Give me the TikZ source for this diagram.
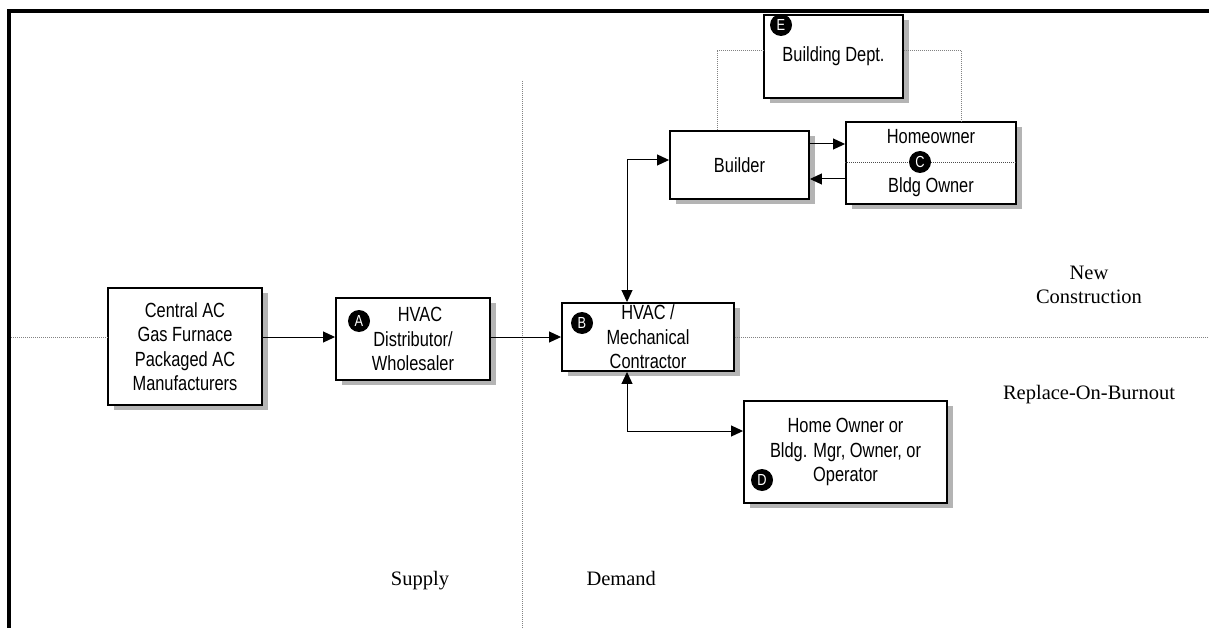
\documentclass[tikz,border=0pt]{standalone}
\usepackage{fontspec}
\usetikzlibrary{arrows.meta,shadows}
\newfontfamily\narrowsans[FakeStretch=0.8]{Liberation Sans}
\newfontfamily\labelserif{Liberation Serif}
\definecolor{shadowgray}{RGB}{180,180,180}
\definecolor{dotgray}{RGB}{130,130,130}
\tikzset{
  box/.style={draw, line width=1.9pt, fill=white, rectangle, inner sep=0pt,
    align=center, font=\narrowsans\fontsize{20.5}{24.5}\selectfont,
    drop shadow={shadow xshift=6pt, shadow yshift=-5pt, fill=shadowgray, opacity=1}},
  badge/.style={circle, fill=black, text=white, inner sep=0pt, minimum size=22pt,
    font=\narrowsans\fontsize{16}{16}\selectfont},
  flow/.style={line width=1pt, -{Triangle[length=12pt,width=11pt]}},
  twoway/.style={line width=1pt, {Triangle[length=12pt,width=11pt]}-{Triangle[length=12pt,width=11pt]}},
  dotline/.style={draw=dotgray, line width=0.9pt, dash pattern=on 1pt off 1pt},
  region/.style={font=\labelserif\fontsize{20.5}{24.5}\selectfont, align=center}
}
\begin{document}
\begin{tikzpicture}[x=1pt,y=-1pt]
\useasboundingbox (0,0) rectangle (1209,628);

% frame
\coordinate (fbot) at (9,628);
\coordinate (fcorner) at (9,11);
\coordinate (fright) at (1209,11);
\draw[line width=4.5pt] (fbot) -- (fcorner) -- (fright);

% guide coordinates
\coordinate (lft) at (11,337);
\coordinate (rgt) at (1209,337);
\coordinate (midline) at (0,337);
\coordinate (vtop) at (522,81);
\coordinate (vbot) at (522,628);
\coordinate (bjoint) at (627,160);
\coordinate (djoint) at (627,431);
\coordinate (ya) at (0,144);
\coordinate (yb) at (0,179);
\coordinate (e1) at (717,50);
\coordinate (e2) at (961,50);
\coordinate (cdiv) at (0,162);

% supply / demand divider
\draw[dotline] (vtop) -- (vbot);

% boxes
\node[box, minimum width=154pt, minimum height=117pt] (mfr) at (185,346.5)
  {Central AC\\Gas Furnace\\Packaged AC\\Manufacturers};
\node[box, minimum width=154pt, minimum height=82pt] (dist) at (413,339)
  {\hspace*{14pt}HVAC\\Distributor/\\Wholesaler};
\node[box, minimum width=172pt, minimum height=68pt] (contr) at (648,337)
  {HVAC /\\Mechanical\\Contractor};
\node[box, minimum width=139pt, minimum height=68pt] (builder) at (739.5,165)
  {Builder};
\node[box, minimum width=170pt, minimum height=82pt] (owner) at (931,163)
  {\raisebox{-3pt}{Homeowner}\\[24.5pt]\raisebox{-3pt}{Bldg Owner}};
\node[box, minimum width=139pt, minimum height=83pt] (dept) at (833.5,56.5)
  {\raisebox{-7pt}{Building Dept.}};
\node[box, minimum width=203pt, minimum height=102pt] (burn) at (845.5,452)
  {Home Owner or\\Bldg. Mgr, Owner, or\\Operator};

% owner box divider
\draw[dotline, draw=black!70] (owner.west |- cdiv) -- (owner.east |- cdiv);

% badges
\node[badge] (bA) at (359,321) {A};
\node[badge] (bB) at (582,323) {B};
\node[badge] (bC) at (920,162) {C};
\node[badge] (bD) at (762,480) {D};
\node[badge] (bE) at (781,25) {E};

% new construction / replace-on-burnout divider
\draw[dotline] (lft) -- (mfr.west |- midline);
\draw[dotline] (contr.east |- midline) -- (rgt);

% flows
\draw[flow] (mfr.east |- midline) -- (dist.west |- midline);
\draw[flow] (dist.east |- midline) -- (contr.west |- midline);
\draw[twoway] (contr.north -| bjoint) -- (bjoint) -- (builder.west |- bjoint);
\draw[twoway] (contr.south -| djoint) -- (djoint) -- (burn.west |- djoint);
\draw[flow] (builder.east |- ya) -- (owner.west |- ya);
\draw[flow] (owner.west |- yb) -- (builder.east |- yb);

% building department links
\draw[dotline] (builder.north -| e1) -- (e1) -- (dept.west |- e1);
\draw[dotline] (dept.east |- e2) -- (e2) -- (owner.north -| e2);

% region labels
\node[region] (newc) at (1089,285) {New\\Construction};
\node[region] (rob) at (1089,395) {Replace-On-Burnout};
\node[region, anchor=base] (supply) at (420,585) {Supply};
\node[region, anchor=base west] (demand) at (583,585) {Demand};
\end{tikzpicture}
\end{document}
